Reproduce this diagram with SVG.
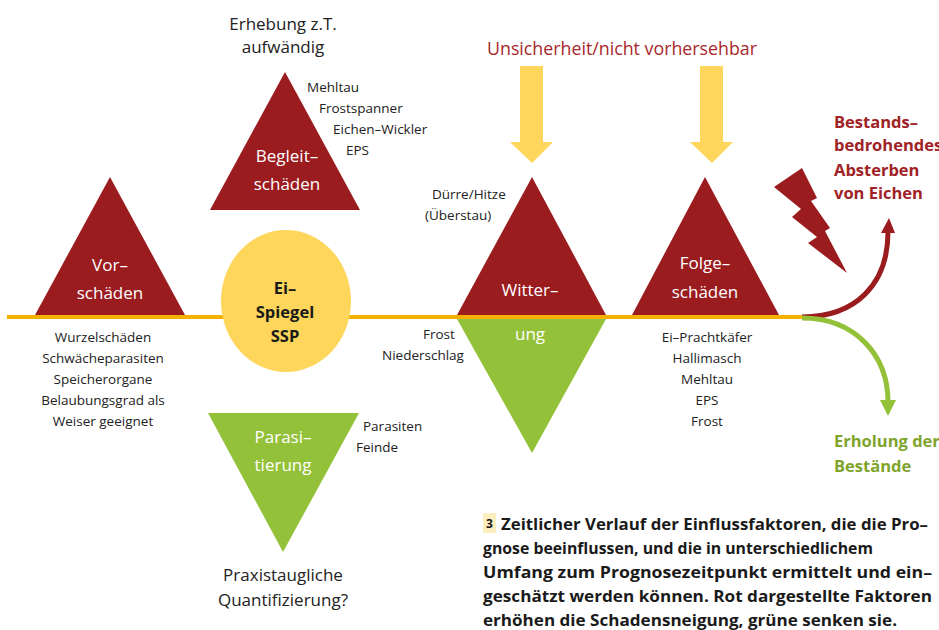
<svg xmlns="http://www.w3.org/2000/svg" width="939" height="630" viewBox="0 0 939 630">
<style>
text{font-family:"Open Sans","Noto Sans","Liberation Sans",sans-serif}
.lbl{font-size:13.5px;fill:#222}
.c{text-anchor:middle}
.w{font-size:17px;fill:#fff}
.big{font-size:17px;fill:#222}
.ei{font-size:16.5px;font-weight:bold;fill:#1a1a1a;text-anchor:middle}
.red{fill:#9b1c1f}
.grn{fill:#94c13a}
.rt{font-size:16.5px;font-weight:bold;fill:#a02226}
.gt{font-size:16.5px;font-weight:bold;fill:#7fa42c}
.cap{font-size:16.8px;font-weight:bold;fill:#1a1a1a}
</style>
<rect width="939" height="630" fill="#fff"/>
<g id="connectors">
<line x1="7" y1="317" x2="805" y2="317" stroke="#f6b100" stroke-width="4"/>
<path d="M802,317 C855,317 888,285 888,232" fill="none" stroke="#9b1c1f" stroke-width="5"/>
<polygon points="881,233 895,233 889,218" fill="#9b1c1f"/>
<path d="M802,318 C855,318 888,355 888,402" fill="none" stroke="#94c13a" stroke-width="5"/>
<polygon points="880,400 896,400 888,416" fill="#94c13a"/>
<polygon points="520,66 543,66 543,142 553,142 532,163 510,142 520,142" fill="#fdd65b"/>
<polygon points="700,66 723,66 723,142 733,142 712,163 690,142 700,142" fill="#fdd65b"/>
</g>
<g id="vorschaeden">
<polygon class="red" points="110,177 185,315 35,315"/>
<text class="w c" x="110" y="271">Vor–</text>
<text class="w c" x="110" y="299">schäden</text>
<text class="lbl c" x="103" y="342">Wurzelschäden</text>
<text class="lbl c" x="103" y="363">Schwächeparasiten</text>
<text class="lbl c" x="103" y="384">Speicherorgane</text>
<text class="lbl c" x="103" y="405">Belaubungsgrad als</text>
<text class="lbl c" x="103" y="426">Weiser geeignet</text>
</g>
<g id="begleitschaeden">
<text class="big c" x="283" y="30">Erhebung z.T.</text>
<text class="big c" x="283" y="53">aufwändig</text>
<polygon class="red" points="285,72 360,210 210,210"/>
<text class="w c" x="287" y="162">Begleit–</text>
<text class="w c" x="287" y="190">schäden</text>
<text class="lbl" x="307" y="92">Mehltau</text>
<text class="lbl" x="319" y="113">Frostspanner</text>
<text class="lbl" x="333" y="134">Eichen–Wickler</text>
<text class="lbl" x="346" y="155">EPS</text>
</g>
<g id="eispiegel">
<ellipse cx="286" cy="301" rx="65" ry="71" fill="#fdd65b"/>
<text class="ei" x="285" y="294">Ei–</text>
<text class="ei" x="285" y="318">Spiegel</text>
<text class="ei" x="285" y="342">SSP</text>
</g>
<g id="parasitierung">
<polygon class="grn" points="208,413 359,413 283,552"/>
<text class="w c" x="283" y="443">Parasi–</text>
<text class="w c" x="283" y="471">tierung</text>
<text class="lbl" x="363" y="431">Parasiten</text>
<text class="lbl" x="356" y="452">Feinde</text>
<text class="big c" x="283" y="581">Praxistaugliche</text>
<text class="big c" x="283" y="606">Quantifizierung?</text>
</g>
<g id="witterung">
<polygon class="red" points="532,177 606,315 457,315"/>
<polygon class="grn" points="457,319 606,319 532,453"/>
<text class="w c" x="530" y="296">Witter–</text>
<text class="w c" x="530" y="340">ung</text>
<text class="lbl" x="432" y="199">Dürre/Hitze</text>
<text class="lbl" x="425" y="220">(Überstau)</text>
<text class="lbl" x="423" y="339">Frost</text>
<text class="lbl" x="382" y="360">Niederschlag</text>
<text x="622" y="55" font-size="18" fill="#a8282b" text-anchor="middle" textLength="270" lengthAdjust="spacingAndGlyphs">Unsicherheit/nicht vorhersehbar</text>
</g>
<g id="folgeschaeden">
<polygon class="red" points="705,177 779,315 632,315"/>
<text class="w c" x="705" y="269">Folge–</text>
<text class="w c" x="705" y="298">schäden</text>
<text class="lbl c" x="707" y="342">Ei–Prachtkäfer</text>
<text class="lbl c" x="707" y="363">Hallimasch</text>
<text class="lbl c" x="707" y="384">Mehltau</text>
<text class="lbl c" x="707" y="405">EPS</text>
<text class="lbl c" x="707" y="426">Frost</text>
</g>
<g id="absterben">
<polygon class="red" points="774,187 802,168 817,198 811,201 830,228 825,231 847,273 808,243 817,237 792,217 801,209"/>
<text class="rt" x="834" y="128">Bestands–</text>
<text class="rt" x="834" y="151">bedrohendes</text>
<text class="rt" x="834" y="176">Absterben</text>
<text class="rt" x="834" y="199">von Eichen</text>
</g>
<g id="erholung">
<text class="gt" x="834" y="447">Erholung der</text>
<text class="gt" x="834" y="472">Bestände</text>
</g>
<g id="caption">
<rect x="483" y="513" width="13" height="20" fill="#fdeec0"/>
<text x="489.5" y="528" font-size="12" font-weight="bold" fill="#1a1a1a" text-anchor="middle">3</text>
<text class="cap" x="501" y="530" textLength="427" lengthAdjust="spacingAndGlyphs">Zeitlicher Verlauf der Einflussfaktoren, die die Pro–</text>
<text class="cap" x="483" y="554" textLength="390" lengthAdjust="spacingAndGlyphs">gnose beeinflussen, und die in unterschiedlichem</text>
<text class="cap" x="483" y="578" textLength="449" lengthAdjust="spacingAndGlyphs">Umfang zum Prognosezeitpunkt ermittelt und ein–</text>
<text class="cap" x="483" y="602" textLength="449" lengthAdjust="spacingAndGlyphs">geschätzt werden können. Rot dargestellte Faktoren</text>
<text class="cap" x="483" y="626" textLength="414" lengthAdjust="spacingAndGlyphs">erhöhen die Schadensneigung, grüne senken sie.</text>
</g>
</svg>
